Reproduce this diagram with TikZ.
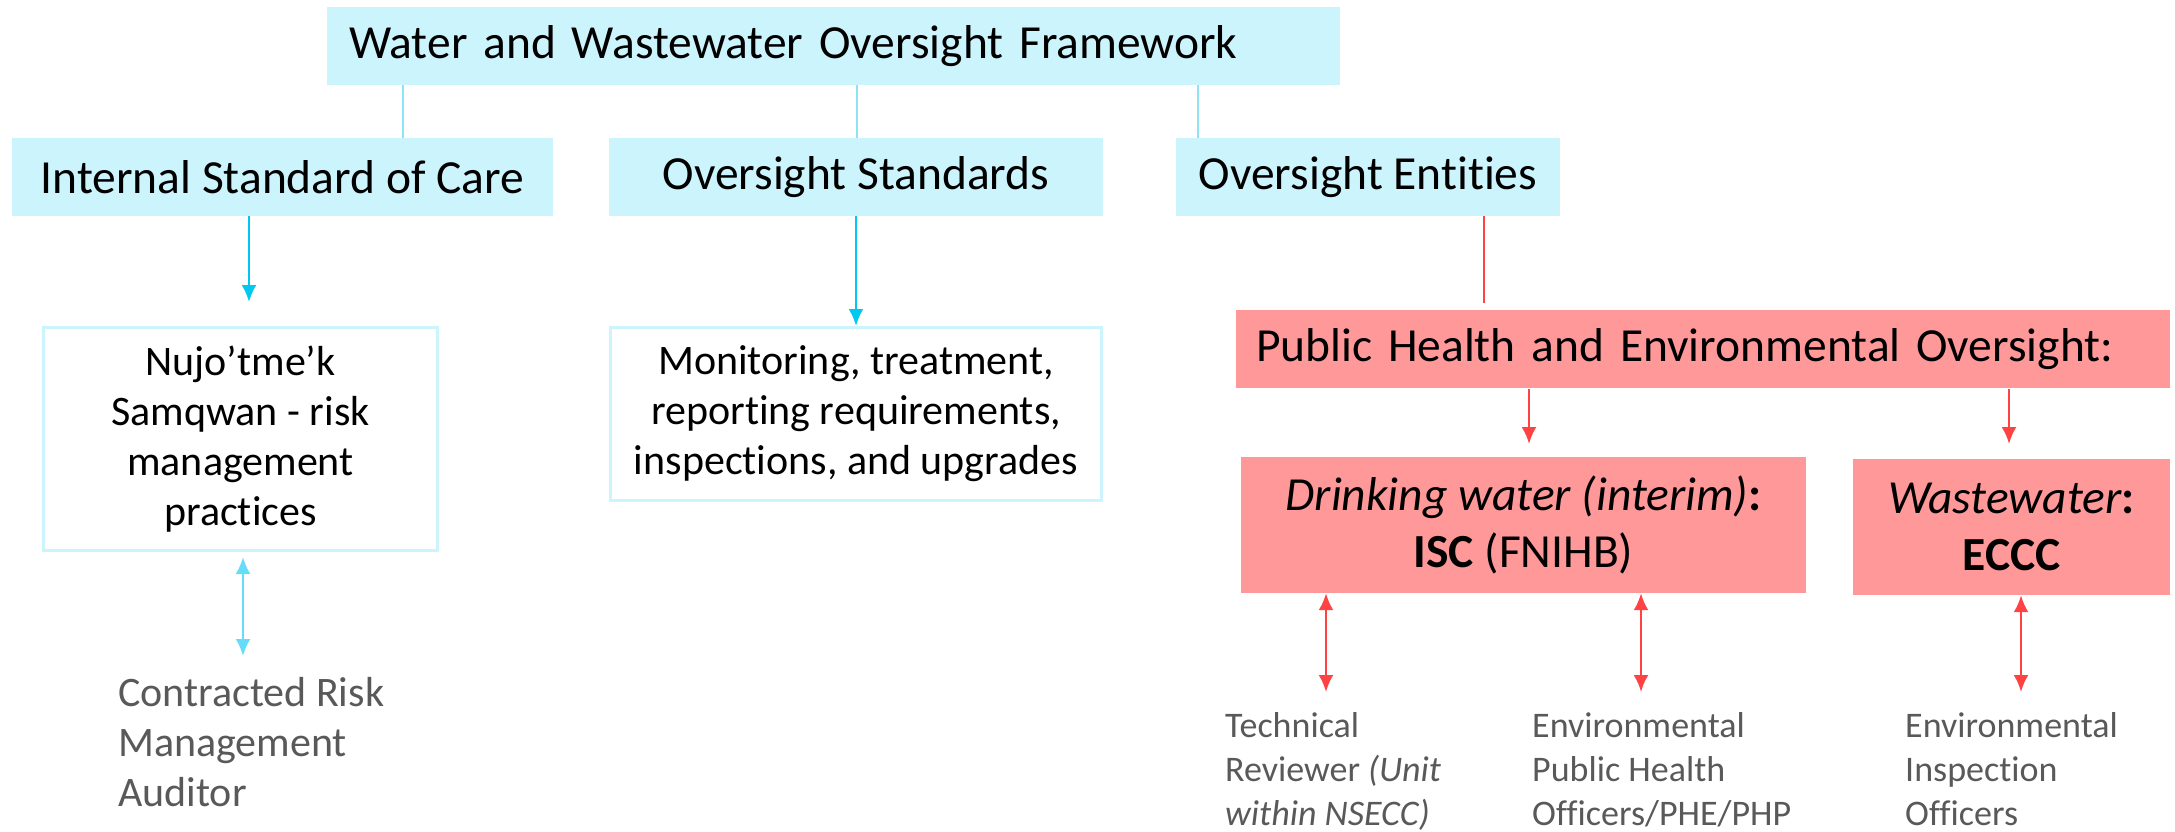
\documentclass[tikz,border=0pt]{standalone}
\usepackage{fontspec}
\setmainfont{Carlito}[Ligatures=NoCommon]
\usetikzlibrary{arrows.meta}
\definecolor{paleblue}{HTML}{CCF4FD}
\definecolor{tieblue}{HTML}{8FE3F5}
\definecolor{deepblue}{HTML}{00C8F0}
\definecolor{softblue}{HTML}{66DDF8}
\definecolor{rose}{HTML}{FF9999}
\definecolor{alarmred}{HTML}{FF4343}
\definecolor{txtgray}{HTML}{595959}

\begin{document}
\begin{tikzpicture}[
x=1pt, y=-1pt,
head/.style={
    fill=paleblue,
    inner sep=0pt,
    minimum height=78pt,
    font=\fontsize{47.5}{58}\selectfont
},
    frame/.style={
        draw=paleblue,
        line width=3pt,
        fill=white,
        inner sep=0pt,
        align=center,
        font=\fontsize{42}{50}\selectfont
    },
    alarm/.style={
        fill=rose,
        inner sep=0pt,
        font=\fontsize{47.5}{57}\selectfont
    },
    who/.style={
        anchor=north west,
        inner sep=0pt,
        align=left,
        text=txtgray
    },
    tie/.style={draw=tieblue, line width=1.2pt},
    redtie/.style={draw=alarmred, line width=1.2pt},
    >={Latex[length=17pt,width=15pt]}
    ]
\useasboundingbox (0,0) rectangle (2175,831);

% framework and its three branches
\node[head, text width=969pt, inner xsep=22pt, align=left] (fw) at (833.5,46) {Water and Wastewater Oversight Framework};
\node[head, minimum width=541pt] (isc) at (282.5,177) {Internal Standard of Care};
\node[head, minimum width=494pt] (ostd) at (856,177) {Oversight Standards};
\node[head, minimum width=384pt] (oent) at (1368,177) {Oversight Entities};

\coordinate (k1) at (403,0);
\coordinate (k2) at (857,0);
\coordinate (k3) at (1198,0);
\foreach \k/\n in {k1/isc,k2/ostd,k3/oent}
\draw[tie] (fw.south -| \k) -- (\n.north -| \k);

% left side
\node[frame, minimum width=394pt, minimum height=223pt] (nujo) at (240.5,439) {Nujo’tme’k\\Samqwan - risk\\management\\practices};
\node[frame, minimum width=491pt, minimum height=173pt] (mon) at (856,414) {Monitoring, treatment,\\reporting requirements,\\inspections, and upgrades};
\node[who, font=\fontsize{42}{50}\selectfont] (crma) at (118,677) {Contracted Risk\\Management\\Auditor};

\coordinate (t1) at (249,302);
\draw[->, draw=deepblue, fill=deepblue, line width=2.5pt] (isc.south -| t1) -- (t1);
\draw[->, draw=deepblue, fill=deepblue, line width=2.5pt] (ostd.south) -- (mon.north);
\coordinate (u1) at (243,656);
\draw[<->, draw=softblue, fill=softblue, line width=2.5pt, shorten <=5pt] (nujo.south -| u1) -- (u1);

% right side
\node[alarm, minimum height=78pt, text width=894pt, inner xsep=20pt, align=left] (phe) at (1703,349) {Public Health and Environmental Oversight:};
\node[alarm, minimum width=565pt, minimum height=136pt, align=center] (dw) at (1523.5,525) {\textit{Drinking water (interim)}\textbf{:}\\\textbf{ISC} (FNIHB)};
\node[alarm, minimum width=317pt, minimum height=136pt, align=center] (ww) at (2011.5,527) {\textit{Wastewater}\textbf{:}\\\textbf{ECCC}};

\node[who, font=\fontsize{36}{44}\selectfont] (tr) at (1225,712) {Technical\\Reviewer \textit{(Unit}\\\textit{within NSECC)}};
\node[who, font=\fontsize{36}{44}\selectfont] (ephp) at (1532,712) {Environmental\\Public Health\\Officers/PHE/PHP};
\node[who, font=\fontsize{36}{44}\selectfont] (eio) at (1905,712) {Environmental\\Inspection\\Officers};

\coordinate (r0) at (1484,303);
\draw[redtie] (oent.south -| r0) -- (r0);
\coordinate (r1) at (1529,444);
\coordinate (r2) at (2009,444);
\foreach \r in {r1,r2}
\draw[->, draw=alarmred, fill=alarmred, line width=2.5pt, shorten <=1pt] (phe.south -| \r) -- (\r);

\coordinate (d1) at (1326,692);
\coordinate (d2) at (1641,692);
\coordinate (d3) at (2021,692);
\foreach \d in {d1,d2}
\draw[<->, draw=alarmred, fill=alarmred, line width=2.5pt] (dw.south -| \d) -- (\d);
\draw[<->, draw=alarmred, fill=alarmred, line width=2.5pt] (ww.south -| d3) -- (d3);
\end{tikzpicture}
\end{document}
